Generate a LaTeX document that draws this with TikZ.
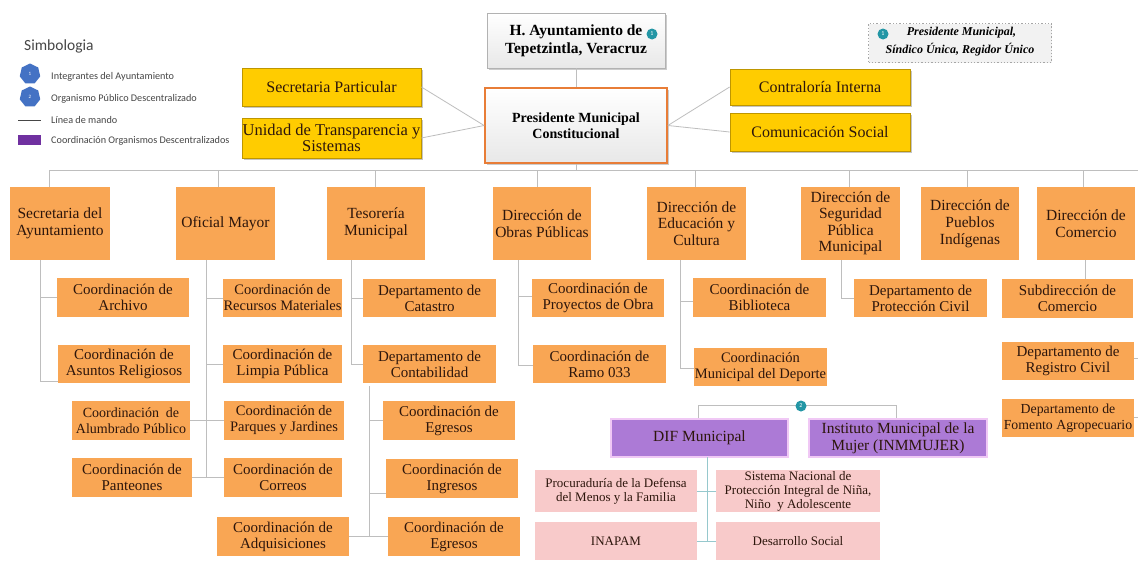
\documentclass[tikz,border=0pt]{standalone}
\usepackage{fontspec}
\setmainfont{Liberation Serif}
\newfontfamily\calfont{Carlito}
\usetikzlibrary{shapes.geometric,shadows,calc}
\definecolor{orfill}{RGB}{249,166,84}
\definecolor{txt}{RGB}{45,22,12}
\definecolor{gold}{RGB}{255,204,0}
\definecolor{golddark}{RGB}{190,150,0}
\definecolor{presor}{RGB}{232,125,55}
\definecolor{purp}{RGB}{172,122,214}
\definecolor{purpb}{RGB}{240,200,245}
\definecolor{pinkf}{RGB}{248,202,202}
\definecolor{linegray}{RGB}{190,190,190}
\definecolor{tealline}{RGB}{150,200,205}
\definecolor{badge}{RGB}{35,150,165}
\definecolor{legblue}{RGB}{68,114,196}
\definecolor{legpurp}{RGB}{112,48,160}
\definecolor{legtxt}{RGB}{70,70,70}
\tikzset{
  obox/.style={fill=orfill, text=txt, align=center, inner sep=0pt, font=\fontsize{15}{16}\selectfont},
  lbox/.style={obox, font=\fontsize{15.5}{16.8}\selectfont},
  ybox/.style={fill=gold, draw=golddark, line width=0.8pt, text=txt, align=center, inner sep=0pt,
     font=\fontsize{16}{17}\selectfont, drop shadow={shadow xshift=1.5pt, shadow yshift=-1.5pt, opacity=0.45}},
  gbox/.style={top color=white, bottom color=gray!18, draw=gray!60, line width=0.8pt, align=center, inner sep=0pt,
     font=\bfseries\fontsize{15.5}{18}\selectfont, drop shadow={shadow xshift=1.5pt, shadow yshift=-1.5pt, opacity=0.4}},
  pbox/.style={fill=purp, draw=purpb, line width=2pt, text=txt, align=center, inner sep=0pt, font=\fontsize{15.5}{17}\selectfont},
  kbox/.style={fill=pinkf, text=txt, align=center, inner sep=0pt, font=\fontsize{13}{14}\selectfont},
  conn/.style={draw=linegray, line width=0.8pt},
  tconn/.style={draw=tealline, line width=0.8pt},
  badgec/.style={circle, fill=badge, text=white, inner sep=0pt, minimum size=11pt, font=\calfont\fontsize{6}{6}\selectfont},
  legtext/.style={anchor=west, text=legtxt, font=\calfont\fontsize{10.2}{12}\selectfont, inner sep=0pt},
  legico/.style={regular polygon, regular polygon sides=7, fill=legblue, text=white, inner sep=0pt, minimum size=21pt, font=\calfont\fontsize{5}{5}\selectfont},
}
\begin{document}
\begin{tikzpicture}[x=1pt,y=-1pt]
\useasboundingbox (0,0) rectangle (1138,560);
\fill[white] (0,0) rectangle (1138,560);

% ---------- legend left
\node[anchor=west, text=legtxt, font=\calfont\fontsize{15.5}{17}\selectfont, inner sep=0pt] (simb) at (24,46) {Simbologia};
\node[legico] (ic1) at (30,74) {1};
\node[legico] (ic2) at (30,97) {2};
\coordinate (ml1) at (18,120);
\coordinate (ml2) at (41,120);
\draw[legtxt, line width=0.7pt] (ml1) -- (ml2);
\node[fill=legpurp, minimum width=23pt, minimum height=10pt, inner sep=0pt] (lp) at (29.5,140) {};
\node[legtext] (lt1) at (51,77) {Integrantes del Ayuntamiento};
\node[legtext] (lt2) at (51,99) {Organismo Público Descentralizado};
\node[legtext] (lt3) at (51,120) {Línea de mando};
\node[legtext] (lt4) at (51,141) {Coordinación Organismos Descentralizados};

% ---------- legend right
\node[fill=gray!10, draw=gray!70, dotted, line width=1.3pt, minimum width=183pt, minimum height=39pt, inner sep=0pt] (legb) at (960,43) {};
\node[font=\bfseries\itshape\fontsize{12}{13}\selectfont, inner sep=0pt] (legt1) at (961.5,33) {Presidente Municipal,};
\node[font=\bfseries\itshape\fontsize{12}{13}\selectfont, inner sep=0pt] (legt2) at (960,50) {Síndico Única, Regidor Único};
\node[badgec] (lb1) at (883,34) {1};

% ---------- top
\node[gbox, minimum width=178pt, minimum height=55pt] (title) at (576,40.5) {H. Ayuntamiento de\\Tepetzintla, Veracruz};
\node[badgec] (tb1) at (652,34) {1};
\node[gbox, draw=presor, line width=1.8pt, font=\bfseries\fontsize{14}{16}\selectfont, minimum width=182pt, minimum height=75pt] (pres) at (576,125.5) {Presidente Municipal\\Constitucional};
\node[ybox, minimum width=179pt, minimum height=38pt] (secpart) at (331.5,87) {Secretaria Particular};
\node[ybox, minimum width=179pt, minimum height=40pt, font=\fontsize{16.5}{16.5}\selectfont] (unidad) at (331.5,138) {Unidad de Transparencia y\\Sistemas};
\node[ybox, minimum width=180pt, minimum height=36pt] (contra) at (820,87) {Contraloría Interna};
\node[ybox, minimum width=180pt, minimum height=38pt] (comun) at (820,132) {Comunicación Social};

\draw[conn] (title.south) -- (pres.north);
\draw[conn] (secpart.east) -- (pres.west);
\draw[conn] (unidad.east) -- (pres.west);
\draw[conn] (contra.west) -- (pres.east);
\draw[conn] (comun.west) -- (pres.east);

% ---------- level 1
\node[lbox, minimum width=100pt, minimum height=73pt] (secay) at (60,223.5) {Secretaria del\\Ayuntamiento};
\node[lbox, minimum width=99pt, minimum height=73pt] (ofmay) at (225.5,223.5) {Oficial Mayor};
\node[lbox, minimum width=98pt, minimum height=73pt] (teso) at (376,223.5) {Tesorería\\Municipal};
\node[lbox, minimum width=98pt, minimum height=73pt] (obras) at (542,223.5) {Dirección de\\Obras Públicas};
\node[lbox, minimum width=99pt, minimum height=73pt] (educ) at (696.5,223.5) {Dirección de\\Educación y\\Cultura};
\node[lbox, minimum width=99pt, minimum height=73pt, font=\fontsize{15.5}{16.5}\selectfont] (segur) at (850.5,223.5) {Dirección de\\Seguridad\\Pública\\Municipal};
\node[lbox, minimum width=98pt, minimum height=73pt] (pueb) at (970,223.5) {Dirección de\\Pueblos\\Indígenas};
\node[lbox, minimum width=98pt, minimum height=73pt] (comer) at (1086,223.5) {Dirección de\\Comercio};

% bus
\coordinate (pbus) at (576,170);
\coordinate (busL) at (49,170);
\coordinate (busR) at (1138,170);
\draw[conn] (pres.south) -- (pbus);
\draw[conn] (busL) -- (busR);
\foreach \n/\x in {secay/49, ofmay/218, teso/375, obras/537, educ/695, segur/849, pueb/967, comer/1083}{
  \coordinate (d\n) at (\x,170);
  \draw[conn] (d\n) -- (d\n |- \n.north);
}

% ---------- Secretaria del Ayuntamiento column
\node[obox, minimum width=132pt, minimum height=39pt] (archivo) at (123,297.5) {Coordinación de\\Archivo};
\node[obox, minimum width=132pt, minimum height=38pt] (asuntos) at (124,364) {Coordinación de\\Asuntos Religiosos};
\coordinate (v1) at (40,260);
\coordinate (v1b) at (40,381);
\draw[conn] (v1) -- (v1b) -- (v1b -| asuntos.west);
\draw[conn] (v1 |- archivo.west) -- (archivo.west);

% ---------- Oficial Mayor column
\node[obox, minimum width=119pt, minimum height=38pt, font=\fontsize{14.5}{16}\selectfont] (recmat) at (282.5,298) {Coordinación de\\Recursos Materiales};
\node[obox, minimum width=119pt, minimum height=38pt] (limpia) at (282.5,364) {Coordinación de\\Limpia Pública};
\node[obox, minimum width=118pt, minimum height=39pt, font=\fontsize{14}{16}\selectfont] (alumb) at (131,420.5) {Coordinación \ de\\Alumbrado Público};
\node[obox, minimum width=120pt, minimum height=39pt, font=\fontsize{14.5}{16}\selectfont] (parques) at (284,420.5) {Coordinación de\\Parques y Jardines};
\node[obox, minimum width=120pt, minimum height=39pt] (panteon) at (132,477.5) {Coordinación de\\Panteones};
\node[obox, minimum width=118pt, minimum height=39pt] (correos) at (283,477.5) {Coordinación de\\Correos};
\node[obox, minimum width=132pt, minimum height=39pt] (adquis) at (283,536.5) {Coordinación de\\Adquisiciones};
\coordinate (v2) at (206,260);
\coordinate (v2b) at (206,477.5);
\draw[conn] (v2) -- (v2b);
\draw[conn] (v2 |- recmat.west) -- (recmat.west);
\draw[conn] (v2 |- limpia.west) -- (limpia.west);
\draw[conn] (alumb.east) -- (parques.west);
\draw[conn] (panteon.east) -- (correos.west);

% ---------- Tesoreria column
\node[obox, minimum width=133pt, minimum height=38pt] (catastro) at (429.5,298) {Departamento de\\Catastro};
\node[obox, minimum width=133pt, minimum height=38pt] (contab) at (429.5,364) {Departamento de\\Contabilidad};
\node[obox, minimum width=132pt, minimum height=39pt] (egres1) at (449,420.5) {Coordinación de\\Egresos};
\node[obox, minimum width=132pt, minimum height=39pt] (ingres) at (452,478.5) {Coordinación de\\Ingresos};
\node[obox, minimum width=132pt, minimum height=39pt] (egres2) at (454,536.5) {Coordinación de\\Egresos};
\coordinate (v3) at (351,260);
\coordinate (v3b) at (351,364);
\draw[conn] (v3) -- (v3b) -- (contab.west);
\draw[conn] (v3 |- catastro.west) -- (catastro.west);
\coordinate (v4) at (369,386);
\coordinate (v4b) at (369,536.5);
\coordinate (v4i) at (369,493);
\draw[conn] (v4) -- (v4b);
\draw[conn] (adquis.east) -- (egres2.west);
\draw[conn] (v4 |- egres1.west) -- (egres1.west);
\draw[conn] (v4i) -- (v4i -| ingres.west);

% ---------- Obras column
\node[obox, minimum width=132pt, minimum height=38pt] (proyob) at (598,298) {Coordinación de\\Proyectos de Obra};
\node[obox, minimum width=133pt, minimum height=38pt] (ramo) at (599.5,364) {Coordinación de\\Ramo 033};
\coordinate (v5) at (518,260);
\coordinate (v5b) at (518,365);
\draw[conn] (v5) -- (v5b) -- (v5b -| ramo.west);
\coordinate (v5p) at (518,296);
\draw[conn] (v5p) -- (v5p -| proyob.west);

% ---------- Educacion column
\node[obox, minimum width=133pt, minimum height=39pt] (biblio) at (759.5,297.5) {Coordinación de\\Biblioteca};
\node[obox, minimum width=133pt, minimum height=38pt, font=\fontsize{14.5}{16}\selectfont] (deporte) at (760.5,367) {Coordinación\\Municipal del Deporte};
\coordinate (v6) at (680,260);
\coordinate (v6b) at (680,368);
\draw[conn] (v6) -- (v6b) -- (v6b -| deporte.west);
\coordinate (v6p) at (680,301);
\draw[conn] (v6p) -- (v6p -| biblio.west);

% ---------- Seguridad column
\node[obox, minimum width=133pt, minimum height=38pt] (protciv) at (920.5,298) {Departamento de\\Protección Civil};
\coordinate (v7) at (841,260);
\draw[conn] (v7) |- (protciv.west);

% ---------- Comercio column
\node[obox, minimum width=131pt, minimum height=39pt] (subcom) at (1067.5,298.5) {Subdirección de\\Comercio};
\node[obox, minimum width=132pt, minimum height=38pt] (regciv) at (1068,361) {Departamento de\\Registro Civil};
\node[obox, minimum width=132pt, minimum height=38pt, font=\fontsize{13.8}{15.5}\selectfont] (foment) at (1068,418) {Departamento de\\Fomento Agropecuario};
\coordinate (v8) at (1085,260);
\draw[conn] (v8) -- (v8 |- subcom.north);
\coordinate (e1) at (1138,358);
\coordinate (e2) at (1138,417);
\draw[conn] (regciv.east |- e1) -- (e1);
\draw[conn] (foment.east |- e2) -- (e2);

% ---------- Organismos descentralizados
\node[pbox, minimum width=177pt, minimum height=38pt] (dif) at (699.5,438) {DIF Municipal};
\node[pbox, minimum width=178pt, minimum height=38pt] (inm) at (898,438) {Instituto Municipal de la\\Mujer (INMMUJER)};
\coordinate (bl) at (698,405);
\coordinate (br) at (896,405);
\draw[conn] (bl |- dif.north) -- (bl) -- (br) -- (br |- inm.north);
\node[badgec] (b2) at (801,406) {2};

\node[kbox, minimum width=162pt, minimum height=42pt] (proc) at (616,491) {Procuraduría de la Defensa\\del Menos y la Familia};
\node[kbox, minimum width=164pt, minimum height=42pt] (sist) at (798,491) {Sistema Nacional de\\Protección Integral de Niña,\\Niño \ y Adolescente};
\node[kbox, minimum width=162pt, minimum height=38pt] (inapam) at (616,541) {INAPAM};
\node[kbox, minimum width=164pt, minimum height=38pt] (desar) at (798,541) {Desarrollo Social};
\coordinate (v9) at (707,457);
\coordinate (v9b) at (707,541);
\draw[tconn] (v9) -- (v9b);
\draw[tconn] (proc.east) -- (sist.west);
\draw[tconn] (inapam.east) -- (desar.west);
\end{tikzpicture}
\end{document}
